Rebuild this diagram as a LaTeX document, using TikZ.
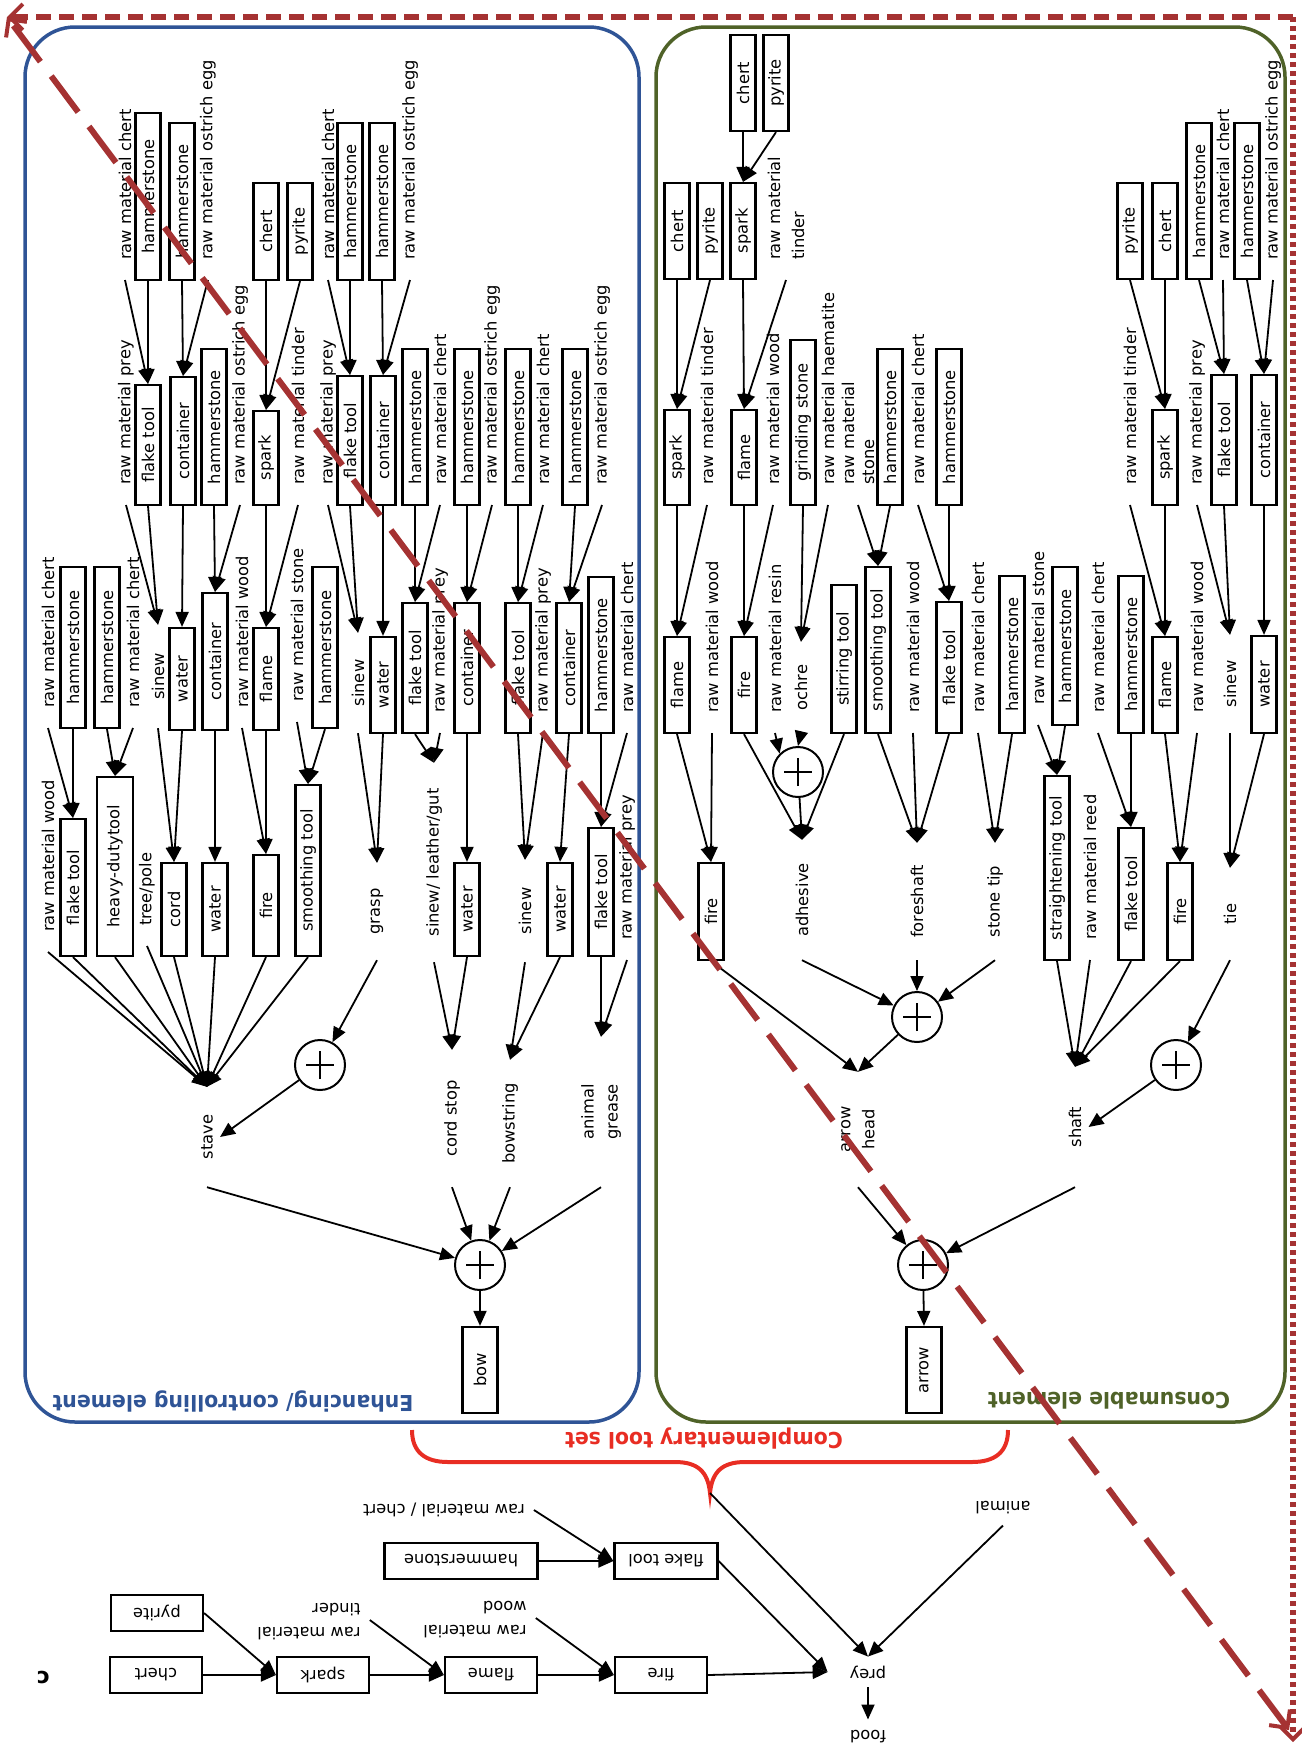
\documentclass[tikz,border=0pt]{standalone}
\usepackage{fontspec}
\setmainfont{DejaVu Sans}
\usepackage{graphicx}
\usetikzlibrary{arrows.meta}
\definecolor{ebl}{RGB}{47,84,150}
\definecolor{egr}{RGB}{79,98,40}
\definecolor{dred}{RGB}{165,50,50}
\definecolor{bred}{RGB}{232,45,35}
% upside-down text (single line / left-aligned block)
\newcommand\flip[1]{\rotatebox[origin=c]{180}{#1}}
\newcommand\flipl[1]{\rotatebox[origin=c]{180}{\begin{tabular}{@{}l@{}}#1\end{tabular}}}
% vertical box: name, x, top, bottom, text
\newcommand\BX[5]{\node[box, minimum width={#4pt-#3pt}] (#1) at (#2,{(#3+#4)/2}) {#5};}
% source label: name, x, y where its arrow starts, text
\newcommand\SL[4]{\node[lbl, anchor=west] (#1) at (#2,#3) {#4};}
% intermediate label: name, x, incoming tip y, outgoing start y, text
\newcommand\ML[5]{\node[mlb, minimum width={#4pt-#3pt}] (#1) at (#2,{(#3+#4)/2}) {#5};}
\tikzset{
  every node/.style={font=\fontsize{16.3}{24}\selectfont},
  box/.style={draw, line width=2.2pt, rotate=90, minimum height=25pt, inner sep=0pt},
  box2/.style={draw, line width=2.2pt, minimum width=92pt, minimum height=36pt, inner sep=0pt},
  lbl/.style={rotate=90, inner xsep=20pt, inner ysep=1pt, align=left},
  mlb/.style={rotate=90, inner sep=0pt, align=left},
  txt/.style={inner xsep=9pt, inner ysep=4pt},
  arr/.style={line width=1.8pt, -{Triangle[length=15pt,width=13pt]}},
  plus/.style={circle, draw, line width=2pt, minimum size=50pt, inner sep=0pt,
    path picture={
      \draw[line width=2.8pt] ([xshift=-14pt]path picture bounding box.center) -- ([xshift=14pt]path picture bounding box.center);
      \draw[line width=2.8pt] ([yshift=-14pt]path picture bounding box.center) -- ([yshift=14pt]path picture bounding box.center);}},
  frame/.style={line width=3.5pt, rounded corners=50pt},
  biglbl/.style={font=\fontsize{22}{26}\selectfont\bfseries},
  barb/.style={-{Straight Barb[length=13pt,width=26pt,line width=4pt]}}
}
\begin{document}
\begin{tikzpicture}[x=1pt,y=-1pt]
\useasboundingbox (0,0) rectangle (1301,1748);

% panels
\draw[frame, color=ebl] (25,27) rectangle (639,1422);
\draw[frame, color=egr] (656,27) rectangle (1285,1422);

% ---------------- enhancing / controlling element ----------------
\SL{la1}{125}{280}{raw material chert}
\BX{la2}{148}{113}{280}{hammerstone}
\BX{la3}{182}{123}{280}{hammerstone}
\SL{la4}{208}{280}{raw material ostrich egg}
\BX{la5}{266}{183}{280}{chert}
\BX{la6}{300}{183}{280}{pyrite}
\SL{la7}{328}{280}{raw material chert}
\BX{la8}{350}{123}{280}{hammerstone}
\BX{la9}{382}{123}{280}{hammerstone}
\SL{la10}{410}{280}{raw material ostrich egg}

\SL{lb1}{126}{505}{raw material prey}
\BX{lb2}{148}{385}{505}{flake tool}
\BX{lb3}{183}{377}{505}{container}
\BX{lb4}{214}{349}{505}{hammerstone}
\SL{lb5}{240}{505}{raw material ostrich egg}
\BX{lb6}{266}{411}{505}{spark}
\SL{lb7}{298}{505}{raw material tinder}
\SL{lb8}{328}{505}{raw material prey}
\BX{lb9}{350}{376}{505}{flake tool}
\BX{lb10}{383}{376}{505}{container}
\BX{lb11}{415}{349}{505}{hammerstone}
\SL{lb12}{440}{505}{raw material chert}
\BX{lb13}{467}{349}{505}{hammerstone}
\SL{lb14}{492}{505}{raw material ostrich egg}
\BX{lb15}{518}{349}{505}{hammerstone}
\SL{lb16}{543}{505}{raw material chert}
\BX{lb17}{575}{349}{505}{hammerstone}
\SL{lb18}{602}{505}{raw material ostrich egg}

\SL{lc1}{48}{728}{raw material chert}
\BX{lc2}{73}{567}{728}{hammerstone}
\BX{lc3}{107}{567}{728}{hammerstone}
\SL{lc4}{133}{728}{raw material chert}
\ML{lc5}{158}{625}{728}{sinew}
\BX{lc6}{182}{628}{730}{water}
\BX{lc7}{215}{593}{730}{container}
\SL{lc8}{242}{728}{raw material wood}
\BX{lc9}{266}{628}{730}{flame}
\SL{lc10}{297}{722}{raw material stone}
\BX{lc11}{325}{567}{728}{hammerstone}
\ML{lc12}{358}{633}{733}{sinew}
\BX{lc13}{383}{637}{733}{water}
\BX{lc14}{415}{603}{733}{flake tool}
\SL{lc15}{440}{733}{raw material prey}
\BX{lc16}{467}{603}{733}{container}
\BX{lc17}{518}{603}{733}{flake tool}
\SL{lc18}{543}{733}{raw material prey}
\BX{lc19}{569}{603}{733}{container}
\BX{lc20}{601}{577}{733}{hammerstone}
\SL{lc21}{627}{733}{raw material chert}

\SL{ld1}{48}{952}{raw material wood}
\BX{ld2}{73}{819}{956}{flake tool}
\node[box, minimum width=179pt, minimum height=36pt] (ld3) at (115,866.5) {heavy-dutytool};
\SL{ld4}{147}{946}{tree/pole}
\BX{ld5}{174}{863}{956}{cord}
\BX{ld6}{215}{863}{956}{water}
\BX{ld7}{266}{855}{956}{fire}
\BX{ld8}{308}{785}{956}{smoothing tool}
\ML{ld9}{377}{863}{960}{grasp}
\ML{ld10}{434}{763}{962}{sinew/ leather/gut}
\BX{ld11}{467}{863}{956}{water}
\ML{ld12}{525}{860}{962}{sinew}
\BX{ld13}{560}{863}{956}{water}
\BX{ld14}{601}{828}{956}{flake tool}
\SL{ld15}{627}{960}{raw material prey}

\ML{stave}{207}{1087}{1187}{stave}
\node[plus] (pc1) at (320,1065) {};
\ML{cordstop}{452}{1050}{1187}{cord stop}
\ML{bowstring}{510}{1060}{1187}{bowstring}
\ML{grease}{601}{1037}{1187}{animal\\grease}
\node[plus] (pbow) at (480,1265) {};
\node[box, minimum width=86pt, minimum height=35pt] (bow) at (480,1370) {bow};

\foreach \a/\b in {la1/lb2, la2/lb2, la3/lb3, la4/lb3, la5/lb6, la6/lb6, la7/lb9, la8/lb9, la9/lb10, la10/lb10,
  lb1/lc5, lb2/lc5, lb3/lc6, lb4/lc7, lb5/lc7, lb6/lc9, lb7/lc9, lb8/lc12, lb9/lc12, lb10/lc13,
  lb11/lc14, lb12/lc14, lb13/lc16, lb14/lc16, lb15/lc17, lb16/lc17, lb17/lc19, lb18/lc19,
  lc1/ld2, lc2/ld2, lc3/ld3, lc4/ld3, lc5/ld5, lc6/ld5, lc7/ld6, lc8/ld7, lc9/ld7, lc10/ld8, lc11/ld8,
  lc12/ld9, lc13/ld9, lc14/ld10, lc15/ld10, lc16/ld11, lc17/ld12, lc18/ld12, lc19/ld13, lc20/ld14, lc21/ld14,
  ld1/stave, ld2/stave, ld3/stave, ld4/stave, ld5/stave, ld6/stave, ld7/stave, ld8/stave,
  ld10/cordstop, ld11/cordstop, ld12/bowstring, ld13/bowstring, ld14/grease, ld15/grease}
  \draw[arr] (\a.west) -- (\b.east);
\draw[arr] (ld9.west) -- (pc1);
\draw[arr] (pc1) -- ([xshift=7pt]stave.south);
\foreach \a in {stave, cordstop, bowstring, grease} \draw[arr] (\a.west) -- (pbow);
\draw[arr] (pbow) -- (bow.east);

% ---------------- consumable element ----------------
\BX{rt1}{743}{35}{131}{chert}
\BX{rt2}{776}{35}{131}{pyrite}

\BX{ra1}{677}{183}{279}{chert}
\BX{ra2}{710}{183}{279}{pyrite}
\BX{ra3}{743}{183}{279}{spark}
\SL{ra4}{786}{280}{raw material\\tinder}
\BX{ra5}{1130}{183}{279}{pyrite}
\BX{ra6}{1165}{183}{279}{chert}
\BX{ra7}{1199}{123}{279}{hammerstone}
\SL{ra8}{1223}{280}{raw material chert}
\BX{ra9}{1247}{123}{279}{hammerstone}
\SL{ra10}{1273}{280}{raw material ostrich egg}

\BX{rb1}{677}{410}{505}{spark}
\SL{rb2}{707}{505}{raw material tinder}
\BX{rb3}{744}{410}{505}{flame}
\SL{rb4}{773}{505}{raw material wood}
\BX{rb5}{803}{340}{505}{grinding stone}
\SL{rb6}{828}{505}{raw material haematite}
\node[lbl, anchor=west, font=\fontsize{16.3}{20}\selectfont] (rb7) at (858,505) {raw material\\stone};
\BX{rb8}{890}{349}{505}{hammerstone}
\SL{rb9}{918}{505}{raw material chert}
\BX{rb10}{949}{349}{505}{hammerstone}
\SL{rb11}{1130}{505}{raw material tinder}
\BX{rb12}{1165}{410}{505}{spark}
\SL{rb13}{1197}{505}{raw material prey}
\BX{rb14}{1224}{375}{505}{flake tool}
\BX{rb15}{1264}{375}{505}{container}

\BX{rc1}{677}{637}{733}{flame}
\SL{rc2}{712}{733}{raw material wood}
\BX{rc3}{744}{637}{733}{fire}
\SL{rc4}{775}{733}{raw material resin}
\ML{rc5}{801}{642}{733}{ochre}
\node[plus] (pad) at (798,772) {};
\BX{rc6}{844}{585}{733}{stirring tool}
\BX{rc7}{878}{567}{733}{smoothing tool}
\SL{rc8}{913}{733}{raw material wood}
\BX{rc9}{949}{602}{733}{flake tool}
\SL{rc10}{978}{733}{raw material chert}
\BX{rc11}{1012}{576}{733}{hammerstone}
\SL{rc12}{1038}{725}{raw material stone}
\BX{rc13}{1065}{567}{725}{hammerstone}
\SL{rc14}{1098}{733}{raw material chert}
\BX{rc15}{1131}{576}{733}{hammerstone}
\BX{rc16}{1165}{637}{733}{flame}
\SL{rc17}{1197}{733}{raw material wood}
\ML{rc18}{1230}{635}{733}{sinew}
\BX{rc19}{1264}{636}{733}{water}

\BX{rd1}{711}{863}{960}{fire}
\ML{rd2}{802}{840}{960}{adhesive}
\ML{rd3}{917}{843}{960}{foreshaft}
\ML{rd4}{995}{843}{960}{stone tip}
\BX{rd5}{1057}{776}{960}{straightening tool}
\SL{rd6}{1090}{960}{raw material reed}
\BX{rd7}{1131}{828}{960}{flake tool}
\BX{rd8}{1180}{863}{960}{fire}
\ML{rd9}{1230}{868}{960}{tie}

\node[plus] (phead) at (917,1017) {};
\node[mlb, align=center, minimum width=115pt] (ahead) at (858,1129.5) {arrow\\head};
\node[plus] (pshaft) at (1176,1065) {};
\ML{shaft}{1075}{1067}{1187}{shaft}
\node[plus] (parrow) at (923,1265) {};
\node[box, minimum width=86pt, minimum height=35pt] (arrowbox) at (924,1370) {arrow};

\foreach \a/\b in {rt1/ra3, rt2/ra3,
  ra1/rb1, ra2/rb1, ra3/rb3, ra4/rb3, ra5/rb12, ra6/rb12, ra7/rb14, ra8/rb14, ra9/rb15, ra10/rb15,
  rb1/rc1, rb2/rc1, rb3/rc3, rb4/rc3, rb5/rc5, rb6/rc5, rb7/rc7, rb8/rc7, rb9/rc9, rb10/rc9,
  rb11/rc16, rb12/rc16, rb13/rc18, rb14/rc18, rb15/rc19,
  rc1/rd1, rc2/rd1, rc3/rd2, rc6/rd2, rc7/rd3, rc8/rd3, rc9/rd3, rc10/rd4, rc11/rd4,
  rc12/rd5, rc13/rd5, rc14/rd7, rc15/rd7, rc16/rd8, rc17/rd8, rc18/rd9, rc19/rd9,
  rd1/ahead, rd5/shaft, rd6/shaft, rd7/shaft, rd8/shaft}
  \draw[arr] (\a.west) -- (\b.east);
\draw[arr] (rc4.west) -- (pad.north west);
\draw[arr] (rc5.west) -- (pad.north);
\draw[arr] (pad) -- (rd2.east);
\foreach \a in {rd2, rd3, rd4} \draw[arr] (\a.west) -- (phead);
\draw[arr] (phead) -- (ahead.east);
\draw[arr] (rd9.west) -- (pshaft);
\draw[arr] (pshaft) -- ([xshift=7pt]shaft.south);
\foreach \a in {ahead, shaft} \draw[arr] (\a.west) -- (parrow);
\draw[arr] (parrow) -- (arrowbox.east);

% panel titles
\node[biglbl, text=ebl] (enhlabel) at (233,1401) {\flip{\scalebox{0.93}[1]{Enhancing/ controlling element}}};
\node[biglbl, text=egr] (conslabel) at (1109,1401) {\flip{\scalebox{0.93}[1]{Consumable element}}};

% complementary tool set brace
\node[biglbl, text=bred] (ctslabel) at (704,1438) {\flip{\scalebox{0.93}[1]{Complementary tool set}}};
\coordinate (brtip) at (710,1493);
\draw[line width=4pt, color=bred] (412,1430) .. controls (412,1452) and (425,1462) .. (448,1462) -- (675,1462)
  .. controls (698,1462) and (708,1472) .. (brtip) .. controls (712,1472) and (722,1462) .. (745,1462)
  -- (972,1462) .. controls (995,1462) and (1008,1452) .. (1008,1430);

% ---------------- hunting sequence ----------------
\node[biglbl] (clabel) at (43,1677) {\flip{c}};
\node[box2] (bchert) at (156,1675) {\flip{chert}};
\node[box2] (bpyrite) at (157,1613) {\flip{pyrite}};
\node[box2] (bspark) at (323,1675) {\flip{spark}};
\node[txt] (btinder) at (309,1620) {\flipl{raw material\\tinder}};
\node[box2] (bflame) at (491,1675) {\flip{flame}};
\node[box2, minimum width=153pt] (bhammer) at (461,1561) {\flip{hammerstone}};
\node[txt] (brmchert) at (444,1510) {\flip{raw material / chert}};
\node[box2, minimum width=103pt] (bflake) at (666,1561) {\flip{flake tool}};
\node[txt] (bwood) at (475,1618) {\flipl{raw material\\wood}};
\node[box2] (bfire) at (661,1675) {\flip{fire}};
\node[inner xsep=22pt, inner ysep=9pt] (prey) at (868,1672) {\flip{prey}};
\node[inner xsep=6pt, inner ysep=11pt] (animal) at (1003,1508) {\flip{animal}};
\node[inner xsep=6pt, inner ysep=11pt] (food) at (868,1737) {\flip{food}};

\foreach \a/\b in {bchert/bspark, bpyrite/bspark, bspark/bflame, btinder/bflame,
  bhammer/bflake, brmchert/bflake, bflame/bfire, bwood/bfire, bfire/prey, bflake/prey}
  \draw[arr] (\a.east) -- (\b.west);
\draw[arr] (brtip) -- (prey.north);
\draw[arr] (animal.south) -- (prey.north);
\draw[arr] (prey.south) -- (food.north);

% ---------------- reading-direction markers ----------------
\coordinate (tl) at (7,17);
\coordinate (tr) at (1293,17);
\coordinate (br) at (1293,1742);
\coordinate (dg) at (1289,1730);
\draw[color=dred, line width=6pt, dash pattern=on 15pt off 8pt, barb] (tr) -- (tl);
\draw[color=dred, line width=6pt, dash pattern=on 5pt off 4pt, barb] (tr) -- (br);
\draw[color=dred, line width=6pt, dash pattern=on 45pt off 18pt,
  {Straight Barb[length=13pt,width=26pt,line width=4pt]}-{Straight Barb[length=13pt,width=26pt,line width=4pt]}] (dg) -- (tl);
\end{tikzpicture}
\end{document}
